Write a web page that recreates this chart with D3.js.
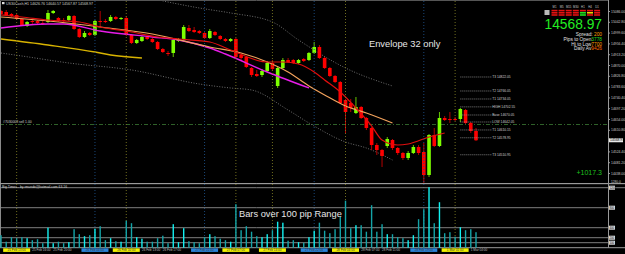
<!DOCTYPE html>
<html>
<head>
<meta charset="utf-8">
<script src="https://cdn.jsdelivr.net/npm/d3@7"></script>
<style>
  html, body { margin: 0; padding: 0; background: #000; }
  svg { display: block; font-family: "Liberation Sans", Arial, sans-serif; }
</style>
</head>
<body>
<div id="vis-display"></div>
<script>
// H1 candles, [open, high, low, close]
const CANDLES = [
  [15086,15090,15070,15074],[15082,15090,15066,15070],[15074,15078,15062,15066],[15070,15074,15050,15054],
  [15054,15058,15026,15030],[15026,15046,15022,15042],[15046,15058,15034,15044],[15046,15050,15034,15038],
  [15038,15046,15030,15037],[15042,15090,15038,15078],[15078,15090,15074,15086],[15058,15062,15042,15046],
  [15050,15058,15042,15049],[15050,15070,15046,15066],[15066,15070,15010,15014],[15014,15018,14978,14982],
  [14982,15006,14978,14998],[14998,15002,14986,14990],[14990,15050,14986,15046],[15046,15086,15022,15042],
  [15046,15054,15038,15045],[15046,15070,15042,15062],[15062,15066,15050,15054],[15054,15062,15050,15058],
  [15058,15066,14986,14990],[14990,14994,14954,14958],[14958,14974,14954,14970],[14966,14986,14962,14982],
  [14982,14986,14970,14974],[14974,14978,14958,14962],[14962,14966,14930,14934],[14934,14938,14918,14922],
  [14918,14926,14906,14917],[14918,14978,14902,14970],[14966,14978,14962,14974],[14974,15030,14970,15022],
  [15018,15030,15002,15006],[15010,15022,14998,15002],[15006,15010,14994,14998],[14998,15002,14974,14978],
  [14978,15014,14974,15006],[15002,15006,14986,14990],[14986,14990,14970,14974],[14974,14978,14962,14966],
  [14966,14978,14962,14974],[14974,14978,14898,14902],[14910,14914,14890,14898],[14902,14906,14858,14862],
  [14858,14862,14822,14830],[14834,14850,14822,14826],[14830,14854,14822,14846],[14846,14886,14842,14878],
  [14878,14890,14846,14854],[14786,14866,14778,14858],[14858,14898,14854,14890],[14890,14898,14878,14882],
  [14890,14894,14874,14878],[14878,14894,14874,14890],[14894,14898,14882,14886],[14890,14922,14886,14918],
  [14918,14962,14914,14942],[14942,14950,14894,14898],[14898,14902,14854,14858],[14858,14862,14822,14826],
  [14826,14830,14798,14802],[14802,14806,14714,14718],[14730,14734,14598,14682],[14718,14734,14682,14698],
  [14678,14742,14674,14702],[14702,14706,14654,14658],[14658,14662,14610,14618],[14618,14622,14530,14550],
  [14550,14558,14510,14530],[14530,14534,14462,14506],[14546,14582,14538,14574],[14570,14574,14530,14538],
  [14538,14542,14510,14518],[14518,14522,14490,14498],[14498,14526,14490,14518],[14518,14550,14514,14542],
  [14542,14550,14510,14518],[14522,14558,14398,14430],[14430,14594,14422,14590],[14590,14618,14542,14546],
  [14546,14682,14542,14658],[14658,14666,14646,14650],[14654,14682,14638,14650],[14654,14662,14646,14650],
  [14654,14698,14642,14694],[14690,14694,14634,14638],[14638,14642,14598,14606],[14606,14618,14566,14568.97]
];

// bar range in pips (lower window)
const RANGES = [
  250,120,210,190,210,190,150,170,90,400,90,120,90,110,370,270,230,250,380,430,
  150,190,130,120,540,490,210,180,120,120,190,240,90,470,110,390,130,110,90,210,
  270,230,180,150,120,870,350,430,320,230,210,270,350,520,500,140,150,110,100,210,
  340,500,340,290,370,620,940,390,450,450,320,850,320,470,270,270,210,190,150,
  250,570,770,1210,490,910,290,310,220,410,350,370,310
];

// moving averages and envelope, [bar index, price]
const MA_YELLOW   = [[0,14974],[9,14950],[18,14922],[21,14910],[27,14898]];
const MA_MAGENTA  = [[0,15018],[9,15034],[12,15034],[19,15006],[29,14982],[34,14970],[40,14938],[43,14914],[51,14842],[59,14778]];
const MA_TAN      = [[0,15062],[9,15046],[19,15022],[29,14994],[40,14942],[46,14918],[51,14882],[55,14842],[59,14786],[62,14750],[66,14706],[70,14678],[75,14638]];
const MA_RED      = [[0,15070],[4,15062],[9,15050],[15,15042],[19,15022],[25,15002],[30,14982],[34,14974],[40,14962],[44,14930],[51,14882],[54,14882],[57,14874],[60,14842],[62,14810],[65,14762],[68,14698],[71,14626],[73,14570],[76,14550],[78,14554],[82,14582],[85,14598]];
const ENV_UPPER   = [[0,15230],[20,15178],[32,15122],[38,15098],[44,15078],[52,15042],[57,14970],[66,14858],[75,14786]];
const ENV_LOWER   = [[0,14918],[4,14906],[13,14878],[25,14850],[38,14794],[44,14778],[48,14770],[55,14690],[59,14638],[66,14562],[70,14538],[75,14490]];

// right price axis ticks
const PRICE_TICKS = [15086.00,15042.80,14999.60,14956.40,14913.20,14870.00,14826.80,14783.60,14740.40,14697.20,14654.00,14610.80,14524.40,14481.20,14438.00];
const LAST_PRICE = 14568.97;

// pivot levels
const LEVEL_NAMES  = ["T3","T2","T1","HIGH","Base","LOW","T1","T2","T3"];
const LEVEL_PRICES = [14822.05,14766.05,14734.05,14702.55,14670.05,14642.05,14610.15,14578.95,14510.95];

const ORDER_PRICE = 14632;
const ORDER_LABEL = "#7030008 sell 1.00";

// range levels (lower window)
const RANGE_LEVELS = [100, 200, 400, 800, 1200];

// separators
const OLIVE_LINES = [3, 24, 45, 52, 66, 87];
const BLUE_LINES  = [18, 39, 60, 81];
const OLIVE_TIMES = ["25 Feb 13:00","26 Feb 10:00","27 Feb 07:00","27 Feb 14:00","28 Feb 04:00","1 Mar 01:00"];
const BLUE_TIMES  = ["26 Feb 04:00","27 Feb 01:00","27 Feb 22:00","28 Feb 19:00"];
// plain time labels between the highlighted ones
const TIME_IDX  = [6, 10, 27, 31, 69, 73, 90];
const TIME_TXT  = ["25 Feb 16:00","25 Feb 20:00","26 Feb 13:00","26 Feb 17:00","28 Feb 07:00","28 Feb 11:00","1 Mar 04:00"];

// timeframe trend panel
const TF_LABELS = ["M1","M5","M15","M30","H1","H4","D1"];
const TF_STATE = [
  ["r","r","r"],["r","r","r"],["r","r","r"],["r","r","r"],["r","g","g"],["r","y","r"],["r","r","r"]
];
const INFO_ROWS = [
  { label: "Spread: ",     value: "200",  color: "#ff9f00" },
  { label: "Pips to Open", value: "3778", color: "#22dd22" },
  { label: "Hi to Low",    value: "7700", color: "#ff9f00" },
  { label: "Daily Av",     value: "9426", color: "#ff6a00" },
];

const W = 625, H = 254;
const AXIS_X = 608;
const MAIN_B = 183;
const SUB_B = 247.7;

const svg = d3.select("#vis-display").append("svg")
  .attr("width", W).attr("height", H);

svg.append("rect").attr("width", W).attr("height", H).attr("fill", "#000");

const x  = d3.scaleLinear().domain([0, CANDLES.length - 1]).range([1, 476]);
const y  = d3.scaleLinear().domain([15130, 14398]).range([0, MAIN_B]);
const yv = d3.scaleLinear().domain([0, 1280]).range([SUB_B, SUB_B - 64]);

const main = svg.append("g");
main.append("clipPath").attr("id", "clipMain")
  .append("rect").attr("x", 0).attr("y", 0).attr("width", AXIS_X).attr("height", MAIN_B);

// ── frame ──────────────────────────────────────────────────────────────
svg.append("line").attr("x1", 0.5).attr("x2", 0.5).attr("y1", 0).attr("y2", SUB_B)
  .attr("stroke", "#8a8a8a");
svg.append("line").attr("x1", 0).attr("x2", AXIS_X).attr("y1", 0.5).attr("y2", 0.5)
  .attr("stroke", "#555");
svg.append("line").attr("x1", 0).attr("x2", W).attr("y1", MAIN_B + 0.5).attr("y2", MAIN_B + 0.5)
  .attr("stroke", "#9a9a9a");
svg.append("line").attr("x1", 0).attr("x2", W).attr("y1", yv(1280)).attr("y2", yv(1280))
  .attr("stroke", "#9a9a9a");
svg.append("line").attr("x1", 0).attr("x2", W).attr("y1", SUB_B).attr("y2", SUB_B)
  .attr("stroke", "#9a9a9a");

// ── separators ─────────────────────────────────────────────────────────
svg.append("g").selectAll("line").data(OLIVE_LINES).join("line")
  .attr("x1", d => x(d)).attr("x2", d => x(d)).attr("y1", 1).attr("y2", SUB_B)
  .attr("stroke", "#7d7a22").attr("stroke-width", 0.9).attr("stroke-dasharray", "1,2");
svg.append("g").selectAll("line").data(BLUE_LINES).join("line")
  .attr("x1", d => x(d)).attr("x2", d => x(d)).attr("y1", 1).attr("y2", SUB_B)
  .attr("stroke", "#1d4f86").attr("stroke-width", 0.9).attr("stroke-dasharray", "1,2");

// range levels
svg.append("g").selectAll("line").data(RANGE_LEVELS).join("line")
  .attr("x1", 0).attr("x2", d => d === 1200 ? W : AXIS_X)
  .attr("y1", d => yv(d)).attr("y2", d => yv(d))
  .attr("stroke", "#8c8c8c").attr("stroke-width", 0.9);

// order line
main.append("line")
  .attr("x1", 0).attr("x2", AXIS_X)
  .attr("y1", y(ORDER_PRICE)).attr("y2", y(ORDER_PRICE))
  .attr("stroke", "#3b7a34").attr("stroke-width", 0.8).attr("stroke-dasharray", "4,2,1,2");
main.append("text").attr("x", 3).attr("y", y(ORDER_PRICE) - 1.5)
  .style("font-size", "3.4px").style("fill", "#cfcfcf").text(ORDER_LABEL);

// envelope
const lineGen = d3.line().x(d => x(d[0])).y(d => y(d[1])).curve(d3.curveMonotoneX);
const env = main.append("g").attr("clip-path", "url(#clipMain)");
[ENV_UPPER, ENV_LOWER].forEach(s => {
  env.append("path").attr("d", lineGen(s)).attr("fill", "none")
    .attr("stroke", "#7a7a7a").attr("stroke-width", 0.9).attr("stroke-dasharray", "1,1.6");
});

// ── candles ────────────────────────────────────────────────────────────
const bull = d => d[3] >= d[0];
const cg = main.append("g");
cg.selectAll("line").data(CANDLES).join("line")
  .attr("x1", (d, i) => x(i)).attr("x2", (d, i) => x(i))
  .attr("y1", d => y(d[1])).attr("y2", d => y(d[2]))
  .attr("stroke", d => bull(d) ? "#62c400" : "#b40000").attr("stroke-width", 1);
cg.selectAll("rect").data(CANDLES).join("rect")
  .attr("x", (d, i) => x(i) - 1.8).attr("width", 3.6)
  .attr("y", d => y(Math.max(d[0], d[3])))
  .attr("height", d => Math.max(1, Math.abs(y(d[0]) - y(d[3]))))
  .attr("fill", d => bull(d) ? "#7dff00" : "#ff0000");

// ── moving averages ────────────────────────────────────────────────────
const mg = main.append("g").attr("clip-path", "url(#clipMain)");
[[MA_YELLOW, "#d8b300", 1.4], [MA_MAGENTA, "#e81ce8", 1.4], [MA_TAN, "#f2a25c", 1.2], [MA_RED, "#e00e0e", 1.2]]
  .forEach(([s, c, w]) => {
    mg.append("path").attr("d", lineGen(s)).attr("fill", "none")
      .attr("stroke", c).attr("stroke-width", w);
  });

// ── pivot levels ───────────────────────────────────────────────────────
const lv = main.append("g");
LEVEL_PRICES.forEach((p, i) => {
  lv.append("line").attr("x1", x(88)).attr("x2", x(94))
    .attr("y1", y(p)).attr("y2", y(p))
    .attr("stroke", "#9a9a9a").attr("stroke-width", 0.8).attr("stroke-dasharray", "1,1");
  lv.append("text").attr("x", x(94) + 0.5).attr("y", y(p) + 0.8)
    .style("font-size", "3.3px").style("fill", "#cfcfcf")
    .text(LEVEL_NAMES[i] + "  " + p.toFixed(2));
});

// ── range bars ─────────────────────────────────────────────────────────
svg.append("g").selectAll("rect").data(RANGES).join("rect")
  .attr("x", (d, i) => x(i) - 0.7).attr("width", 1.4)
  .attr("y", d => yv(d)).attr("height", d => SUB_B - yv(d))
  .attr("fill", (d, i) => bull(CANDLES[i]) ? "#12f0f0" : "#14a4a8");

// ── right price axis ───────────────────────────────────────────────────
svg.append("line").attr("x1", AXIS_X + 0.5).attr("x2", AXIS_X + 0.5).attr("y1", 0).attr("y2", SUB_B)
  .attr("stroke", "#9a9a9a");
svg.append("g")
  .attr("transform", `translate(${AXIS_X},0)`)
  .call(d3.axisRight(y).tickValues(PRICE_TICKS).tickFormat(d3.format(".2f")).tickSize(2).tickPadding(1))
  .call(ax => ax.select(".domain").remove())
  .call(ax => ax.selectAll(".tick line").attr("stroke", "#9a9a9a"))
  .selectAll("text").style("font-size", "3.4px").style("fill", "#c8c8c8");

svg.append("rect").attr("x", AXIS_X + 1).attr("y", y(LAST_PRICE) - 2).attr("width", 14).attr("height", 4)
  .attr("fill", "#e8e8e8");
svg.append("text").attr("x", AXIS_X + 2).attr("y", y(LAST_PRICE) + 1.2)
  .style("font-size", "3.4px").style("fill", "#000").text(LAST_PRICE.toFixed(2));

// lower window axis boxes
RANGE_LEVELS.forEach(v => {
  svg.append("rect").attr("x", AXIS_X + 1).attr("y", yv(v) - 2).attr("width", 6).attr("height", 4)
    .attr("fill", "#dcdcdc");
  svg.append("text").attr("x", AXIS_X + 1.5).attr("y", yv(v) + 1)
    .style("font-size", "2.8px").style("fill", "#000").text(v);
});
svg.append("text").attr("x", AXIS_X + 3).attr("y", 183)
  .style("font-size", "3.2px").style("fill", "#c8c8c8").text("1280.0");

// ── time axis ──────────────────────────────────────────────────────────
svg.append("g").selectAll("text").data(TIME_IDX).join("text")
  .attr("x", d => x(d)).attr("y", 251.3)
  .style("font-size", "3.1px").style("fill", "#bdbdbd")
  .text((d, i) => TIME_TXT[i]);
[[OLIVE_LINES, OLIVE_TIMES, "#f2f200"], [BLUE_LINES, BLUE_TIMES, "#2a83d8"]].forEach(([idx, txt, col]) => {
  idx.forEach((d, i) => {
    svg.append("rect").attr("x", x(d) - 13.5).attr("y", 248.3).attr("width", 27).attr("height", 3.6)
      .attr("fill", col);
    svg.append("text").attr("x", x(d)).attr("y", 251.3).attr("text-anchor", "middle")
      .style("font-size", "3.1px").style("fill", "#333").text(txt[i]);
  });
});

// ── titles and notes ───────────────────────────────────────────────────
svg.append("rect").attr("x", 2).attr("y", 2).attr("width", 2.5).attr("height", 2.2).attr("fill", "#ddd");
svg.append("text").attr("x", 6).attr("y", 4.5)
  .style("font-size", "3.6px").style("fill", "#d0d0d0")
  .text("US30Cash,H1  14626.76  14640.57  14567.87  14568.97");
svg.append("text").attr("x", 2).attr("y", 188.3)
  .style("font-size", "3.4px").style("fill", "#d0d0d0")
  .text("Big Times - by rmunde@hotmail.com  63.16");

svg.append("text").attr("x", 369).attr("y", 46.5)
  .style("font-size", "9.3px").style("fill", "#e6e6e6").text("Envelope 32 only");
svg.append("text").attr("x", 239).attr("y", 217.3)
  .style("font-size", "9.3px").style("fill", "#e6e6e6").text("Bars over 100 pip Range");

svg.append("text").attr("x", 602).attr("y", 174.5).attr("text-anchor", "end")
  .style("font-size", "7px").style("fill", "#1fc01f").text("+1017.3");

// ── trend panel ────────────────────────────────────────────────────────
const TF_COL = { r: "#e41010", g: "#20e020", y: "#f0d000" };
svg.append("rect").attr("x", 544.5).attr("y", 10).attr("width", 5).attr("height", 5).attr("fill", "#bbb");
TF_LABELS.forEach((t, i) => {
  const cx = 551.5 + i * 7.1;
  svg.append("text").attr("x", cx + 3).attr("y", 8.3).attr("text-anchor", "middle")
    .style("font-size", "2.8px").style("fill", "#c8c8c8").text(t);
  TF_STATE[i].forEach((s, j) => {
    svg.append("rect").attr("x", cx).attr("y", 9.8 + j * 2.2).attr("width", 6).attr("height", 1.6)
      .attr("fill", TF_COL[s]);
  });
});

svg.append("text").attr("x", 602).attr("y", 29.2).attr("text-anchor", "end")
  .style("font-size", "13.8px").style("fill", "#22ee22").text(LAST_PRICE.toFixed(2));

INFO_ROWS.forEach((r, i) => {
  const t = svg.append("text").attr("x", 602).attr("y", 36.4 + i * 4.6).attr("text-anchor", "end")
    .style("font-size", "4.8px");
  t.append("tspan").style("fill", "#e0e0e0").text(r.label);
  t.append("tspan").style("fill", r.color).text(r.value);
});
</script>
</body>
</html>
